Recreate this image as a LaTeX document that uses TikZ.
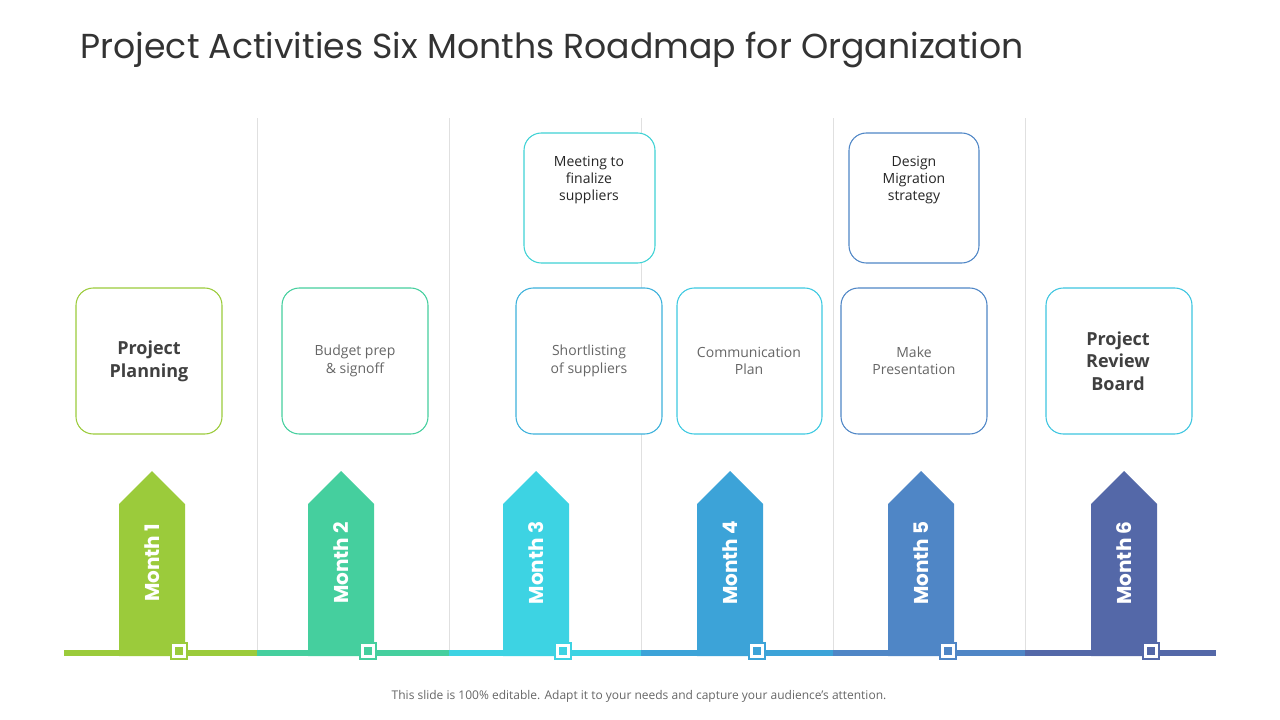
\documentclass[tikz,border=0pt]{standalone}
\usepackage{fontspec}
\setmainfont{Open Sans}
\newfontfamily\geo{Poppins}
\begin{document}
\begin{tikzpicture}[x=0.75pt,y=-0.75pt,
  card/.style={draw,rounded corners=13pt,line width=0.8pt,fill=white},
  small/.style={font=\fontsize{10.5}{13}\selectfont,text=black!60,align=center},
  bold/.style={font=\fontsize{13.5}{17}\selectfont\bfseries,text=black!75,align=center},
  mark/.style={}]
\definecolor{c1}{HTML}{9BCB3B}\definecolor{c2}{HTML}{45CF9E}\definecolor{c3}{HTML}{3DD3E3}
\definecolor{c4}{HTML}{3CA3D8}\definecolor{c5}{HTML}{4F86C6}\definecolor{c6}{HTML}{5468A8}
\useasboundingbox (0,0) rectangle (1280,720);
\node[anchor=west,font=\geo\fontsize{26}{30}\selectfont,text=black!80] (title) at (76,50) {Project Activities Six Months Roadmap for Organization};
\foreach \x in {257,449,641,833,1025}{\draw[black!12,line width=0.6pt] (\x,118) -- (\x,650);}
\foreach \a/\b/\c in {64/257/c1,257/449/c2,449/641/c3,641/833/c4,833/1025/c5,1025/1216/c6}{
  \fill[\c] (\a,650) rectangle (\b,656);}
\foreach \cx/\c/\n in {152/c1/1,341/c2/2,536/c3/3,730/c4/4,921/c5/5,1124/c6/6}{
  \fill[\c] (\cx-33,656) -- (\cx-33,504) -- (\cx,471) -- (\cx+33,504) -- (\cx+33,656) -- cycle;
  \node[rotate=90,text=white,font=\geo\fontsize{15}{18}\selectfont\bfseries] (m\n) at (\cx,563) {Month \n};
  \node[draw=\c,fill=white,line width=2pt,minimum size=12pt,inner sep=0pt] (s\n) at (\cx+27,651) {};
  \fill[\c] (\cx+23,647) rectangle (\cx+31,655);
}
\draw[card,draw=c1] (76,288) rectangle (222,434);
\node[bold] (b1) at (149,361) {Project\\ Planning};
\draw[card,draw=c2] (282,288) rectangle (428,434);
\node[small] (b2) at (355,361) {Budget prep\\ \& signoff};
\draw[card,draw=c4!70!c3] (516,288) rectangle (662,434);
\node[small] (b3) at (589,361) {Shortlisting\\ of suppliers};
\draw[card,draw=c3!80!c4] (677,288) rectangle (822,434);
\node[small] (b4) at (749,361) {Communication\\ Plan};
\draw[card,draw=c5] (841,288) rectangle (987,434);
\node[small] (b5) at (914,361) {Make\\ Presentation};
\draw[card,draw=c3!70!c4] (1046,288) rectangle (1192,434);
\node[bold] (b6) at (1118,361) {Project\\ Review\\ Board};
\draw[card,draw=c3!80!c2] (524,133) rectangle (655,263);
\node[small,text=black!85] (t3) at (589,180) {Meeting to\\ finalize\\ suppliers};
\draw[card,draw=c5] (849,133) rectangle (979,263);
\node[small,text=black!85] (t5) at (914,180) {Design\\ Migration\\ strategy};
\node[font=\fontsize{9}{11}\selectfont,text=black!60] (foot) at (639,696) {This slide is 100\% editable. Adapt it to your needs and capture your audience's attention.};
\end{tikzpicture}
\end{document}
